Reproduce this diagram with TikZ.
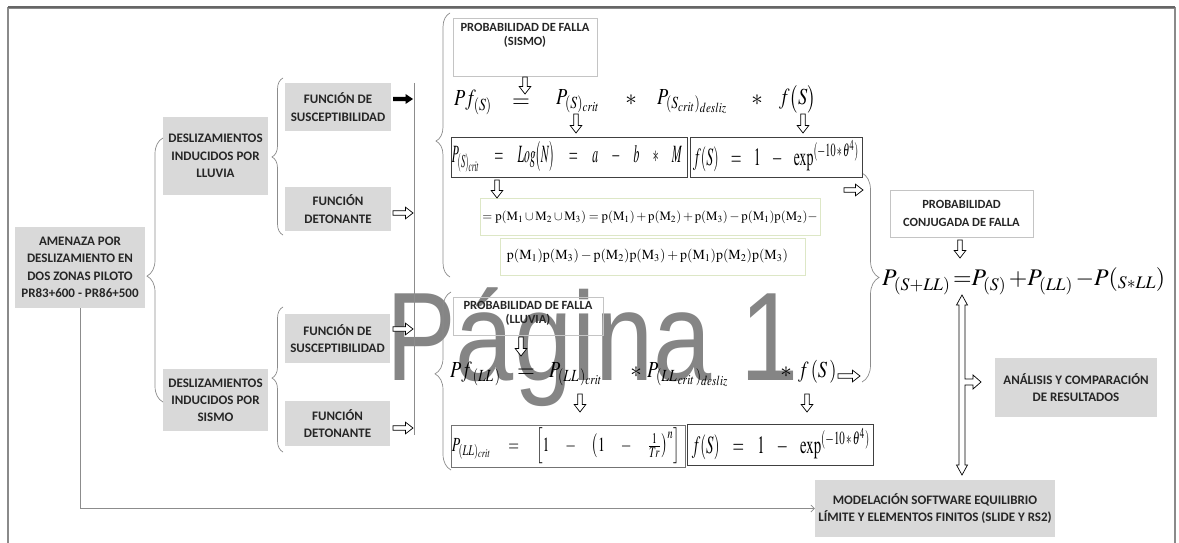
\documentclass[tikz,border=0pt]{standalone}
\usepackage{amsmath}
\usepackage{mathptmx}
\usepackage{graphicx}
\usepackage{fontspec}
\setmainfont{Liberation Serif}
\newfontfamily\carlito{Carlito}
\newfontfamily\wmfont{Liberation Sans}
\usetikzlibrary{decorations.pathreplacing,arrows.meta}
\definecolor{boxgray}{HTML}{D9D9D9}
\definecolor{linegray}{HTML}{8C8C8C}
\definecolor{framegray}{HTML}{8A8A8A}
\definecolor{greenb}{HTML}{DDE7C6}
\definecolor{lightb}{HTML}{C4C4C4}
\definecolor{txt}{HTML}{262626}
\definecolor{wmgray}{HTML}{858585}
\newcommand{\cnd}[1]{\scalebox{0.8}[1]{#1}}
\tikzset{
  barrow/.pic={\draw[line width=0.7pt, fill=white, draw=black] (0,-2.3) -- ({#1-7.5},-2.3) -- ({#1-7.5},-5.8) -- (#1,0) -- ({#1-7.5},5.8) -- ({#1-7.5},2.3) -- (0,2.3) -- cycle;},
  sarrow/.pic={\fill[black] (0,-2.2) -- ({#1-7.5},-2.2) -- ({#1-7.5},-5) -- (#1,0) -- ({#1-7.5},5) -- ({#1-7.5},2.2) -- (0,2.2) -- cycle;},
}
\begin{document}
\begin{tikzpicture}[x=1pt,y=-1pt,
  gbox/.style={fill=boxgray, draw=none, inner sep=0pt, align=center, text=txt,
    font=\carlito\bfseries\fontsize{13}{17.5}\selectfont},
  wbox/.style={draw=lightb, line width=0.7pt, inner sep=0pt},
  wtext/.style={inner sep=0pt, align=center, text=txt, font=\carlito\bfseries\fontsize{12.5}{14.5}\selectfont},
  fbox/.style={draw=black!75, line width=0.7pt, inner sep=0pt},
  ebox/.style={draw=greenb, line width=0.8pt, inner sep=0pt},
  eq/.style={inner sep=0pt, anchor=base west, font=\fontsize{23}{23}\selectfont},
  eqc/.style={inner sep=0pt},
  conn/.style={draw=linegray, line width=0.7pt},
  cbrace/.style 2 args={conn, decorate, decoration={brace, amplitude=#1pt, aspect=#2}},
]
\useasboundingbox (0,0) rectangle (1179,543);
\fill[white] (0,0) rectangle (1179,543);
% watermark
\node[inner sep=0pt, anchor=base west, text=wmgray, font=\wmfont\fontsize{126}{126}\selectfont] (wm) at (386,380) {\scalebox{0.83}[1]{Página 1}};
% frame
\draw[draw=framegray, line width=1.4pt] (8,543) -- (8,8) -- (1175,8) -- (1175,543);
\draw[draw=black!60, line width=1.2pt] (8,7) -- (1175,7);

% gray boxes
\node[gbox, minimum width=130, minimum height=81] (amenaza) at (80,267.5) {AMENAZA POR\\DESLIZAMIENTO EN\\DOS ZONAS PILOTO\\PR83+600 - PR86+500};
\node[gbox, minimum width=105, minimum height=78] (deslizLL) at (215.5,156) {DESLIZAMIENTOS\\INDUCIDOS POR\\LLUVIA};
\node[gbox, minimum width=105, minimum height=62, font=\carlito\bfseries\fontsize{13}{17}\selectfont] (deslizS) at (215.5,400) {DESLIZAMIENTOS\\INDUCIDOS POR\\SISMO};
\node[gbox, minimum width=106, minimum height=48] (fsus1) at (338,107) {FUNCIÓN DE\\SUSCEPTIBILIDAD};
\node[gbox, minimum width=106, minimum height=44] (fdet1) at (338,209) {FUNCIÓN\\DETONANTE};
\node[gbox, minimum width=105, minimum height=49] (fsus2) at (337.5,338.5) {FUNCIÓN DE\\SUSCEPTIBILIDAD};
\node[gbox, minimum width=105, minimum height=45] (fdet2) at (337.5,423.5) {FUNCIÓN\\DETONANTE};
\node[gbox, minimum width=162, minimum height=59] (analisis) at (1076,387.5) {ANÁLISIS Y COMPARACIÓN\\DE RESULTADOS};
\node[gbox, minimum width=240, minimum height=57] (model) at (935,508.5) {MODELACIÓN SOFTWARE EQUILIBRIO\\LÍMITE Y ELEMENTOS FINITOS (SLIDE Y RS2)};

% braces
\draw[cbrace={16}{0.477}] (163,402) -- (163,138);
\draw[cbrace={11}{0.497}] (283,235) -- (283,78);
\draw[cbrace={11}{0.51}] (283,452) -- (283,307);
\draw[cbrace={14}{0.515}] (450,277) -- (450,13);
\draw[cbrace={16}{0.54}] (451,470) -- (451,292);
\draw[cbrace={17}{0.5}] (862,173) -- (862,382);

% connectors
\coordinate (vtop) at (414,83);
\coordinate (vbot) at (414,435);
\draw[conn] (vtop) -- (vbot);
\draw[conn, -{Straight Barb[length=3.5pt,width=7pt]}] (amenaza.south) |- (model.west);

% white label boxes
\node[wbox, minimum width=144, minimum height=58] (probS) at (525,47) {};
\node[wtext, anchor=north] (probSt) at (525,23) {PROBABILIDAD DE FALLA\\(SISMO)};
\node[wbox, minimum width=150, minimum height=38] (probLL) at (528,316) {};
\node[wtext, anchor=north] (probLLt) at (528,301) {PROBABILIDAD DE FALLA\\(LLUVIA)};
\node[wbox, fill=white, minimum width=143, minimum height=47, wtext, font=\carlito\bfseries\fontsize{12.5}{18}\selectfont] (probC) at (961.5,213.5) {PROBABILIDAD\\CONJUGADA DE FALLA};

% formula boxes
\node[fbox, minimum width=236, minimum height=40] (fb1) at (569,157) {};
\node[fbox, minimum width=172, minimum height=40] (fb2) at (776,157) {};
\node[ebox, minimum width=340, minimum height=37] (eb1) at (650,216.5) {};
\node[ebox, minimum width=305, minimum height=37] (eb2) at (652.5,256.5) {};
\node[fbox, draw=black!55, minimum width=234, minimum height=42] (fb3) at (568,446) {};
\node[fbox, minimum width=186, minimum height=41] (fb4) at (780,444.5) {};

\node[eqc] (fc1) at (567,157) {\resizebox*{230pt}{31pt}{$P_{(S)_{crit}}\quad=\quad Log\bigl(N\bigr)\quad=\quad a\quad-\quad b\quad*\quad M$}};
\node[eqc] (fc2) at (776,156) {\resizebox*{166pt}{32pt}{$f(S)\;\;\;=\;\;\;1\;\;\;-\;\;\;\exp^{(-10\,*\,\theta^{4})}$}};
\node[eqc] (ec1) at (650,217) {\resizebox{335pt}{!}{$=\mathrm{p}(\mathrm{M}_1\cup\mathrm{M}_2\cup\mathrm{M}_3)=\mathrm{p}(\mathrm{M}_1)+\mathrm{p}(\mathrm{M}_2)+\mathrm{p}(\mathrm{M}_3)-\mathrm{p}(\mathrm{M}_1)\mathrm{p}(\mathrm{M}_2)-$}};
\node[eqc] (ec2) at (647.5,256) {\resizebox{281pt}{!}{$\mathrm{p}(\mathrm{M}_1)\mathrm{p}(\mathrm{M}_3)-\mathrm{p}(\mathrm{M}_2)\mathrm{p}(\mathrm{M}_3)+\mathrm{p}(\mathrm{M}_1)\mathrm{p}(\mathrm{M}_2)\mathrm{p}(\mathrm{M}_3)$}};
\node[eqc] (fc3) at (566,446) {\resizebox*{228pt}{36pt}{$P_{(LL)_{crit}}\quad=\quad\left[1\quad-\quad\left(1\quad-\quad\frac{1}{Tr}\right)^{n}\right]$}};
\node[eqc] (fc4) at (781,444) {\resizebox*{178pt}{32pt}{$f(S)\;\;\;=\;\;\;1\;\;\;-\;\;\;\exp^{(-10\,*\,\theta^{4})}$}};

% top formula
\node[eq] (pf1) at (454,106) {\cnd{$Pf_{(S)}$}};
\node[eq, anchor=base] (eq1) at (521,107) {$=$};
\node[eq] (pc1) at (556,104) {\cnd{$P_{(S)_{crit}}$}};
\node[eq, anchor=base] (st1) at (631,106) {$*$};
\node[eq] (pd1) at (657,104) {\cnd{$P_{(S_{crit})_{desliz}}$}};
\node[eq, anchor=base] (st2) at (757,106) {$*$};
\node[eq] (fs1) at (779,105) {\cnd{$f\bigl(S\bigr)$}};

% lower formula
\node[eq] (pf2) at (450,377) {\cnd{$Pf_{\;(LL\,)}$}};
\node[eq, anchor=base] (eq2) at (526,377) {$=$};
\node[eq] (pc2) at (549,377) {\cnd{$P_{(LL\,)_{crit}}$}};
\node[eq, anchor=base] (st3) at (636,377) {$*$};
\node[eq] (pd2) at (647,377) {\cnd{$P_{(LL_{\,crit}\,)_{desliz}}$}};
\node[eq, anchor=base] (st4) at (786,377) {$*$};
\node[eq] (fs2) at (798,377) {\cnd{$f\,(S\,)$}};

% conjugated formula
\node[eq, font=\fontsize{24}{24}\selectfont] (pconj) at (882,285) {\resizebox{283pt}{!}{$P_{(S+LL)}\,{=}P_{(S)}\,{+}P_{(LL)}\,{-}P({}_{S*LL})$}};

% block arrows
\pic[rotate=-90] at (525,77) {barrow=17};
\pic[rotate=-90] at (576,114) {barrow=19};
\pic[rotate=-90] at (803,114) {barrow=19};
\pic[rotate=-90] at (497,180) {barrow=18};
\pic[rotate=-90] at (521,337) {barrow=19};
\pic[rotate=-90] at (580,394) {barrow=18};
\pic[rotate=-90] at (807,394) {barrow=18};
\pic[rotate=-90] at (960,240) {barrow=18};
\pic at (393,99) {sarrow=20};
\pic at (393,213) {barrow=20};
\pic at (393,329) {barrow=20};
\pic at (393,428) {barrow=20};
\pic at (844,190) {barrow=19};
\pic at (838,376) {barrow=22};
% double arrow with branch
\draw[line width=0.7pt, fill=white] (962,295) -- (967.5,305) -- (965,305) -- (965,379) -- (973,379) -- (973,375) -- (981,382) -- (973,389) -- (973,385) -- (965,385) -- (965,465) -- (967.5,465) -- (962,475) -- (956.5,465) -- (959,465) -- (959,305) -- (956.5,305) -- cycle;
\end{tikzpicture}
\end{document}
